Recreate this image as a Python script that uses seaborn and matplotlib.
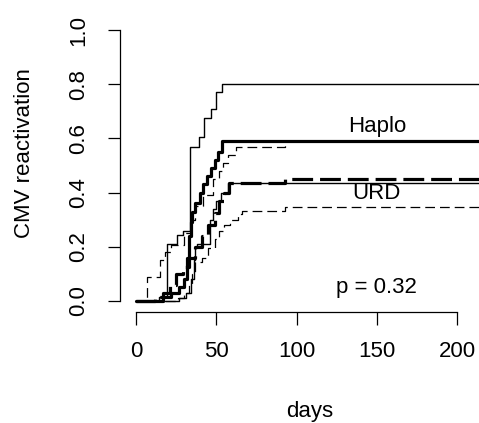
import matplotlib
matplotlib.use("Agg")
import matplotlib.pyplot as plt
import seaborn as sns
import pandas as pd

# ---- data ----
haplo_t   = [0, 17, 22, 27, 30, 32, 33, 34, 35, 37, 40, 42, 44, 47, 49, 51, 53.5, 240]
haplo_est = [0, 0.015, 0.03, 0.05, 0.08, 0.16, 0.24, 0.29, 0.33, 0.36, 0.40, 0.43, 0.46, 0.49, 0.52, 0.55, 0.59, 0.59]

haplo_up_t = [0, 14, 19, 25.5, 29, 33.5, 39, 42.4, 47, 50, 53.6, 240]
haplo_up   = [0, 0.015, 0.21, 0.245, 0.26, 0.57, 0.605, 0.675, 0.71, 0.77, 0.80, 0.80]

haplo_lo_t = [0, 27, 31, 34, 36, 37, 38, 46, 48, 50, 53, 57, 240]
haplo_lo   = [0, 0.01, 0.03, 0.08, 0.15, 0.20, 0.21, 0.30, 0.34, 0.37, 0.40, 0.435, 0.435]

urd_t   = [0, 12, 17, 21, 25, 29, 33, 37, 41, 45, 49, 52, 55, 58, 93, 240]
urd_est = [0, 0.015, 0.03, 0.06, 0.10, 0.125, 0.16, 0.20, 0.24, 0.28, 0.325, 0.37, 0.40, 0.435, 0.45, 0.45]

urd_up_t = [0, 7, 15, 18, 22, 30, 34, 37, 42, 48, 52, 54, 57, 62, 93, 240]
urd_up   = [0, 0.09, 0.15, 0.18, 0.205, 0.25, 0.30, 0.35, 0.39, 0.45, 0.48, 0.51, 0.54, 0.57, 0.59, 0.59]

urd_lo_t = [0, 26, 30, 33, 35, 37, 41, 45, 49, 52, 55, 58.5, 63.5, 66, 93, 240]
urd_lo   = [0, 0.01, 0.03, 0.06, 0.10, 0.145, 0.16, 0.195, 0.23, 0.26, 0.28, 0.30, 0.32, 0.332, 0.348, 0.348]

x_ticks = [0, 50, 100, 150, 200]
y_ticks = [0.0, 0.2, 0.4, 0.6, 0.8, 1.0]
group_labels = ["Haplo", "URD"]
p_text = "p = 0.32"

sns.set_style("white")
plt.rcParams['font.family'] = ['Liberation Sans', 'DejaVu Sans']
plt.rcParams['lines.scale_dashes'] = False
plt.rcParams['text.color'] = 'black'
plt.rcParams['axes.labelcolor'] = 'black'

fig = plt.figure(figsize=(4.79, 4.23), dpi=100)
ax = fig.add_axes([120/479, (423-311.8)/423, 380/479, 292.6/423])

curves = [
    (haplo_t, haplo_est, 2.3, '-'),
    (haplo_up_t, haplo_up, 1.0, '-'),
    (haplo_lo_t, haplo_lo, 1.0, '-'),
    (urd_t, urd_est, 2.3, (0, (15, 5))),
    (urd_up_t, urd_up, 0.9, (0, (7, 3.6))),
    (urd_lo_t, urd_lo, 0.9, (0, (7, 3.6))),
]
for t, v, lw, ls in curves:
    df = pd.DataFrame({"days": t, "val": v})
    sns.lineplot(data=df, x="days", y="val", ax=ax, color="black", lw=lw,
                 linestyle=ls, drawstyle="steps-post", estimator=None, sort=False)

ax.set_xlim(-10, 226.8)
ax.set_ylim(-0.04, 1.04)
for s in ["top", "right"]:
    ax.spines[s].set_visible(False)
ax.spines["left"].set_bounds(0, 1)
ax.spines["bottom"].set_bounds(0, 200)
for s in ["left", "bottom"]:
    ax.spines[s].set_linewidth(0.9)
    ax.spines[s].set_color("black")

ax.set_xticks(x_ticks)
ax.set_xticklabels([str(x) for x in x_ticks])
ax.set_yticks(y_ticks)
ax.set_yticklabels([f"{y:.1f}" for y in y_ticks], rotation=90, va="center")
ax.tick_params(axis="both", direction="out", length=9, width=0.9, color="black",
               labelsize=16, labelcolor="black", bottom=True, left=True)
ax.tick_params(axis="x", pad=12)
ax.tick_params(axis="y", pad=13)

ax.set_xlabel("days", fontsize=16, color="black")
ax.set_ylabel("CMV reactivation", fontsize=16, color="black")
ax.xaxis.set_label_coords((310-120)/380, (311.8-412)/292.6)
ax.xaxis.label.set_va("center")
ax.yaxis.set_label_coords((25-120)/380, (311.8-153)/292.6)
ax.yaxis.label.set_va("center")

ax.text(150, 0.645, group_labels[0], fontsize=16, ha="center", va="center", color="black")
ax.text(150, 0.395, group_labels[1], fontsize=16, ha="center", va="center", color="black")
ax.text(150, 0.05, p_text, fontsize=16, ha="center", va="center", color="black")

fig.savefig("out.png", dpi=100)
